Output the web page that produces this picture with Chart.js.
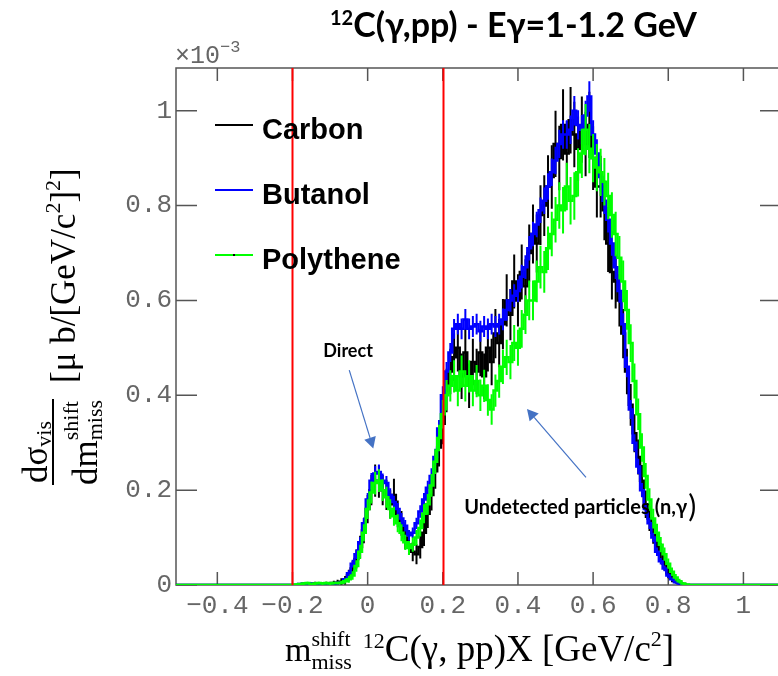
<!DOCTYPE html>
<html>
<head>
<meta charset="utf-8">
<script src="https://cdn.jsdelivr.net/npm/chart.js@4.4.1/dist/chart.umd.min.js"></script>
<style>
  html, body { margin: 0; padding: 0; background: #fff; overflow: hidden; }
  #wrap { position: relative; width: 790px; height: 676px; }
</style>
</head>
<body>
<div id="wrap"><canvas id="chart"></canvas></div>
<script>
// ----------------------- Data ----------------------------------
// missing mass histogram, bins 0.01 GeV/c^2 wide, first bin centred at -0.20
const binLow = -0.20;
const binWidth = 0.01;

// dsigma/dm values in units of 1e-3 ub/(GeV/c^2)^2
const carbon = [
  0, 0, 0, 0.002, 0, 0.002, 0.003, 0.002, 0.002, 0.003,
  0.003, 0.004, 0.005, 0.007, 0.01, 0.02, 0.035, 0.055, 0.08, 0.115,
  0.16, 0.2, 0.22, 0.218, 0.2, 0.19, 0.17, 0.19, 0.15, 0.13,
  0.1, 0.085, 0.07, 0.065, 0.08, 0.11, 0.15, 0.19, 0.24, 0.29,
  0.34, 0.41, 0.45, 0.48, 0.5, 0.44, 0.49, 0.42, 0.47, 0.45,
  0.49, 0.44, 0.5, 0.47, 0.53, 0.51, 0.55, 0.6, 0.57, 0.64,
  0.6, 0.66, 0.63, 0.7, 0.74, 0.72, 0.78, 0.8, 0.84, 0.86,
  0.93, 0.9, 0.97, 0.91, 0.98, 0.95, 0.92, 0.96, 0.93, 0.97,
  0.9, 0.84, 0.84, 0.79, 0.72, 0.66, 0.64, 0.6, 0.53, 0.45,
  0.38, 0.32, 0.27, 0.22, 0.17, 0.14, 0.11, 0.09, 0.07, 0.045,
  0.025, 0.015, 0.01, 0.005, 0.002, 0, 0, 0, 0, 0, 0
];
const butanol = [
  0, 0, 0.002, 0.003, 0.002, 0.003, 0.002, 0.003, 0.002, 0.003,
  0.003, 0.003, 0.004, 0.005, 0.012, 0.025, 0.045, 0.065, 0.09, 0.13,
  0.18, 0.22, 0.235, 0.238, 0.22, 0.215, 0.19, 0.175, 0.16, 0.14,
  0.125, 0.105, 0.11, 0.13, 0.155, 0.18, 0.205, 0.23, 0.27, 0.33,
  0.4, 0.45, 0.49, 0.54, 0.55, 0.54, 0.56, 0.54, 0.545, 0.55,
  0.535, 0.545, 0.54, 0.55, 0.545, 0.55, 0.56, 0.58, 0.6, 0.61,
  0.62, 0.65, 0.67, 0.71, 0.74, 0.76, 0.79, 0.81, 0.84, 0.87,
  0.895, 0.93, 0.95, 0.95, 0.96, 1.0, 0.97, 0.96, 0.99, 1.03,
  0.95, 0.91, 0.86, 0.81, 0.77, 0.72, 0.67, 0.62, 0.55, 0.46,
  0.37, 0.3, 0.25, 0.2, 0.16, 0.13, 0.1, 0.07, 0.05, 0.035,
  0.02, 0.012, 0.006, 0.003, 0.001, 0, 0, 0, 0, 0, 0
];
const polythene = [
  0, 0.001, 0.002, 0.003, 0.004, 0.002, 0.003, 0.004, 0.003, 0.004,
  0.003, 0.004, 0.004, 0.005, 0.008, 0.012, 0.02, 0.04, 0.07, 0.11,
  0.16, 0.195, 0.215, 0.22, 0.2, 0.185, 0.16, 0.145, 0.13, 0.11,
  0.09, 0.078, 0.085, 0.1, 0.12, 0.15, 0.17, 0.21, 0.26, 0.31,
  0.36, 0.4, 0.42, 0.44, 0.41, 0.45, 0.42, 0.44, 0.41, 0.43,
  0.4, 0.42, 0.39, 0.37, 0.41, 0.43, 0.46, 0.48, 0.47, 0.51,
  0.5, 0.54, 0.57, 0.6, 0.6, 0.64, 0.67, 0.66, 0.71, 0.74,
  0.77, 0.8, 0.79, 0.84, 0.81, 0.82, 0.87, 0.91, 0.96, 0.92,
  0.9, 0.88, 0.87, 0.85, 0.82, 0.78, 0.74, 0.69, 0.64, 0.58,
  0.51, 0.43, 0.36, 0.29, 0.23, 0.18, 0.14, 0.11, 0.085, 0.065,
  0.045, 0.028, 0.016, 0.008, 0.003, 0.001, 0, 0, 0, 0, 0
];

// statistical errors per bin (same units)
const carbonErr = [
  0, 0, 0, 0.003, 0, 0.003, 0.004, 0.003, 0.003, 0.004,
  0.004, 0.005, 0.006, 0.007, 0.009, 0.012, 0.016, 0.02, 0.024, 0.027,
  0.03, 0.032, 0.034, 0.034, 0.032, 0.032, 0.03, 0.034, 0.028, 0.026,
  0.024, 0.022, 0.02, 0.021, 0.024, 0.028, 0.03, 0.033, 0.037, 0.04,
  0.043, 0.046, 0.048, 0.05, 0.05, 0.048, 0.05, 0.047, 0.049, 0.048,
  0.05, 0.048, 0.05, 0.049, 0.052, 0.051, 0.053, 0.055, 0.054, 0.057,
  0.055, 0.058, 0.057, 0.06, 0.062, 0.061, 0.063, 0.064, 0.066, 0.067,
  0.07, 0.068, 0.075, 0.068, 0.07, 0.069, 0.068, 0.07, 0.068, 0.07,
  0.067, 0.065, 0.065, 0.063, 0.06, 0.058, 0.057, 0.055, 0.052, 0.048,
  0.044, 0.04, 0.037, 0.033, 0.029, 0.026, 0.023, 0.021, 0.018, 0.015,
  0.011, 0.009, 0.007, 0.005, 0.003, 0, 0, 0, 0, 0, 0
];
const butanolErr = [
  0, 0, 0.002, 0.002, 0.002, 0.002, 0.002, 0.002, 0.002, 0.002,
  0.002, 0.002, 0.003, 0.003, 0.004, 0.006, 0.008, 0.01, 0.011, 0.012,
  0.014, 0.016, 0.016, 0.016, 0.015, 0.015, 0.014, 0.013, 0.013, 0.012,
  0.012, 0.011, 0.011, 0.012, 0.013, 0.014, 0.015, 0.016, 0.017, 0.018,
  0.019, 0.02, 0.02, 0.021, 0.022, 0.022, 0.022, 0.022, 0.022, 0.022,
  0.022, 0.022, 0.022, 0.022, 0.022, 0.022, 0.023, 0.023, 0.024, 0.024,
  0.024, 0.025, 0.025, 0.026, 0.026, 0.027, 0.027, 0.028, 0.028, 0.029,
  0.029, 0.03, 0.03, 0.03, 0.03, 0.031, 0.031, 0.031, 0.031, 0.032,
  0.03, 0.03, 0.029, 0.028, 0.027, 0.026, 0.025, 0.025, 0.023, 0.022,
  0.02, 0.018, 0.016, 0.015, 0.013, 0.012, 0.01, 0.009, 0.007, 0.006,
  0.005, 0.004, 0.003, 0.002, 0.001, 0, 0, 0, 0, 0, 0
];
const polytheneErr = [
  0, 0.002, 0.002, 0.003, 0.003, 0.002, 0.003, 0.003, 0.003, 0.003,
  0.003, 0.003, 0.003, 0.004, 0.005, 0.007, 0.009, 0.012, 0.015, 0.018,
  0.021, 0.023, 0.024, 0.024, 0.023, 0.022, 0.021, 0.02, 0.019, 0.018,
  0.016, 0.015, 0.015, 0.016, 0.018, 0.02, 0.022, 0.024, 0.026, 0.028,
  0.03, 0.032, 0.033, 0.034, 0.033, 0.034, 0.033, 0.034, 0.033, 0.034,
  0.033, 0.034, 0.033, 0.032, 0.034, 0.035, 0.036, 0.037, 0.036, 0.038,
  0.038, 0.04, 0.041, 0.042, 0.042, 0.044, 0.045, 0.044, 0.046, 0.047,
  0.048, 0.049, 0.049, 0.05, 0.05, 0.05, 0.051, 0.052, 0.054, 0.052,
  0.051, 0.05, 0.05, 0.05, 0.049, 0.048, 0.047, 0.046, 0.044, 0.042,
  0.04, 0.037, 0.033, 0.03, 0.027, 0.024, 0.021, 0.019, 0.016, 0.014,
  0.011, 0.009, 0.007, 0.005, 0.003, 0.001, 0, 0, 0, 0, 0
];

const seriesNames = ['Carbon', 'Butanol', 'Polythene'];
const seriesColors = ['#000000', '#0000ff', '#00ff00'];

// axis ranges and tick labels
const xMin = -0.51, xMax = 1.1;
const yMin = 0, yMax = 1.09;
const xTicks = [-0.4, -0.2, 0, 0.2, 0.4, 0.6, 0.8, 1];
const yTicks = [0, 0.2, 0.4, 0.6, 0.8, 1];
// red selection cuts on the missing mass
const cutLines = [-0.2, 0.2];

const massBins = carbon.map((_, i) => +(binLow + i * binWidth).toFixed(3));

// ---------------------- Helpers ------------------------------
// histogram points, padded with zeros out to the axis range
function toPoints(values) {
  const pts = massBins.map((m, i) => ({ x: m, y: values[i] }));
  return [{ x: xMin, y: 0 }, ...pts, { x: xMax, y: 0 }];
}

function fmtTick(v) {
  const s = String(+v.toFixed(1));
  return s.replace('-', '\u2212');
}

// draw a run of text pieces, each {t, size, dy} or {stack: [...]}
function drawRuns(ctx, x, y, runs, family, weight) {
  runs.forEach(r => {
    if (r.stack) {
      let w = 0;
      r.stack.forEach(s => {
        ctx.font = `${weight} ${s.size}px ${family}`;
        ctx.fillText(s.t, x, y + s.dy);
        w = Math.max(w, ctx.measureText(s.t).width);
      });
      x += w;
    } else {
      ctx.font = `${weight} ${r.size}px ${family}`;
      ctx.fillText(r.t, x, y + (r.dy || 0));
      x += ctx.measureText(r.t).width;
    }
  });
  return x;
}

function drawArrow(ctx, x1, y1, x2, y2) {
  const ang = Math.atan2(y2 - y1, x2 - x1);
  const head = 11, half = 6;
  ctx.strokeStyle = '#4472c4';
  ctx.fillStyle = '#4472c4';
  ctx.lineWidth = 1.2;
  ctx.beginPath();
  ctx.moveTo(x1, y1);
  ctx.lineTo(x2 - head * Math.cos(ang), y2 - head * Math.sin(ang));
  ctx.stroke();
  ctx.beginPath();
  ctx.moveTo(x2, y2);
  ctx.lineTo(x2 - head * Math.cos(ang) + half * Math.sin(ang), y2 - head * Math.sin(ang) - half * Math.cos(ang));
  ctx.lineTo(x2 - head * Math.cos(ang) - half * Math.sin(ang), y2 - head * Math.sin(ang) + half * Math.cos(ang));
  ctx.closePath();
  ctx.fill();
}

// ---------------------- Plugins ------------------------------
// ROOT style frame with inward ticks on all four sides
const framePlugin = {
  id: 'frame',
  beforeDatasetsDraw(chart) {
    const { ctx, chartArea: a, scales } = chart;
    ctx.save();
    ctx.strokeStyle = '#555';
    ctx.lineWidth = 1.5;
    ctx.strokeRect(a.left, a.top, a.right - a.left, a.bottom - a.top);
    ctx.beginPath();
    xTicks.forEach(v => {
      const px = scales.x.getPixelForValue(v);
      ctx.moveTo(px, a.bottom); ctx.lineTo(px, a.bottom - 13);
      ctx.moveTo(px, a.top); ctx.lineTo(px, a.top + 13);
    });
    yTicks.forEach(v => {
      const py = scales.y.getPixelForValue(v);
      ctx.moveTo(a.left, py); ctx.lineTo(a.left + 21, py);
      ctx.moveTo(a.right, py); ctx.lineTo(a.right - 21, py);
    });
    ctx.stroke();
    ctx.restore();
  }
};

// vertical error bars drawn together with their histogram
const errorBarPlugin = {
  id: 'errorBars',
  afterDatasetDraw(chart, args) {
    const ds = chart.data.datasets[args.index];
    if (!ds.errors) return;
    const { ctx, scales } = chart;
    ctx.save();
    ctx.strokeStyle = ds.borderColor;
    ctx.lineWidth = 2;
    ctx.beginPath();
    massBins.forEach((m, i) => {
      const e = ds.errors[i];
      if (!e) return;
      const v = ds.values[i];
      const px = scales.x.getPixelForValue(m);
      ctx.moveTo(px, scales.y.getPixelForValue(Math.max(0, v - e)));
      ctx.lineTo(px, scales.y.getPixelForValue(v + e));
    });
    ctx.stroke();
    ctx.restore();
  }
};

const overlayPlugin = {
  id: 'overlay',
  afterDatasetsDraw(chart) {
    const { ctx, chartArea: a, scales } = chart;
    ctx.save();
    // red cut lines
    ctx.strokeStyle = '#ff0000';
    ctx.lineWidth = 2;
    ctx.beginPath();
    cutLines.forEach(v => {
      const px = Math.round(scales.x.getPixelForValue(v)) + 0.5;
      ctx.moveTo(px, a.top); ctx.lineTo(px, a.bottom);
    });
    ctx.stroke();

    // legend
    seriesNames.forEach((name, i) => {
      const y = 125 + i * 65;
      ctx.strokeStyle = seriesColors[i];
      ctx.lineWidth = 2.2;
      ctx.beginPath();
      ctx.moveTo(215, y); ctx.lineTo(253, y);
      ctx.stroke();
      if (i === 2) { ctx.fillStyle = '#000'; ctx.fillRect(233, y - 1, 2, 2); }
      ctx.fillStyle = '#000';
      ctx.font = 'bold 29px "Liberation Sans", Arial, sans-serif';
      ctx.textBaseline = 'alphabetic';
      ctx.fillText(name, 262, y + 14);
    });

    // annotations
    const X = v => scales.x.getPixelForValue(v);
    const Y = v => scales.y.getPixelForValue(v);
    ctx.fillStyle = '#000';
    ctx.font = 'bold 18px Lato, "Open Sans", sans-serif';
    ctx.fillText('Direct', X(-0.118), Y(0.48));
    drawArrow(ctx, X(-0.049), Y(0.453), X(0.015), Y(0.288));
    ctx.fillStyle = '#000';
    const end = drawRuns(ctx, X(0.257), Y(0.15), [
      { t: 'Undetected particles (n,', size: 20 },
      { t: '\u03b3', size: 20 }
    ], 'Lato, "Open Sans", sans-serif', 'bold');
    ctx.font = '30px Lato, "Open Sans", sans-serif';
    ctx.fillText(')', end + 1, Y(0.15) + 3);
    drawArrow(ctx, X(0.581), Y(0.227), X(0.424), Y(0.371));
    ctx.restore();
  },
  afterDraw(chart) {
    const { ctx } = chart;
    ctx.save();
    ctx.fillStyle = '#000';
    ctx.textBaseline = 'alphabetic';

    // title
    drawRuns(ctx, 330, 37, [
      { t: '12', size: 20, dy: -12 },
      { t: 'C(\u03b3,pp) - E\u03b3=1-1.2 GeV', size: 34 }
    ], 'Lato, "Open Sans", sans-serif', 'bold');

    // exponent above the y axis
    ctx.fillStyle = '#666';
    drawRuns(ctx, 175, 63, [
      { t: '\u00d710', size: 25 },
      { t: '\u22123', size: 17, dy: -11 }
    ], '"Liberation Mono", monospace', 'normal');

    // x axis title
    ctx.fillStyle = '#000';
    const serif = '"Liberation Serif", "Times New Roman", serif';
    drawRuns(ctx, 285, 661, [
      { t: 'm', size: 34 },
      { stack: [{ t: 'shift', size: 22, dy: -15 }, { t: 'miss', size: 22, dy: 8 }] },
      { t: '  ', size: 22 },
      { t: '12', size: 22, dy: -13 },
      { t: 'C(\u03b3, pp)X [GeV/c', size: 37 },
      { t: '2', size: 22, dy: -15 },
      { t: ']', size: 37 }
    ], serif, 'normal');

    // y axis title, rotated
    ctx.translate(53, 495);
    ctx.rotate(-Math.PI / 2);
    drawRuns(ctx, 12, -6, [
      { t: 'd\u03c3', size: 35 },
      { t: 'vis', size: 22, dy: 4 }
    ], serif, 'normal');
    ctx.fillRect(10, -1, 86, 2);
    drawRuns(ctx, 10, 44, [
      { t: 'dm', size: 35 },
      { stack: [{ t: 'shift', size: 22, dy: -19 }, { t: 'miss', size: 22, dy: 5 }] }
    ], serif, 'normal');
    drawRuns(ctx, 112, 22, [
      { t: '[\u03bc b/[GeV/c', size: 35 },
      { t: '2', size: 22, dy: -15 },
      { t: ']', size: 35 },
      { t: '2', size: 22, dy: -15 },
      { t: ']', size: 35 }
    ], serif, 'normal');
    ctx.restore();
  }
};

// ---------------------- Chart ------------------------------
const rawSeries = [carbon, butanol, polythene];
const rawErrors = [carbonErr, butanolErr, polytheneErr];

const datasets = seriesNames.map((name, i) => ({
  label: name,
  data: toPoints(rawSeries[i]),
  values: rawSeries[i],
  errors: rawErrors[i],
  borderColor: seriesColors[i],
  borderWidth: 2.5,
  stepped: 'middle',
  pointRadius: 0,
  fill: false,
  order: 3 - i   // polythene drawn last, on top
}));

const tickFont = { family: '"Liberation Mono", monospace', size: 26 };

new Chart(document.getElementById('chart'), {
  type: 'line',
  data: { datasets },
  options: {
    responsive: true,
    maintainAspectRatio: false,
    animation: false,
    layout: { padding: { top: 68, right: 9, left: 0, bottom: 0 } },
    plugins: {
      legend: { display: false },
      tooltip: { enabled: false },
      title: { display: false }
    },
    scales: {
      x: {
        type: 'linear',
        min: xMin,
        max: xMax,
        afterBuildTicks: s => { s.ticks = xTicks.map(v => ({ value: v })); },
        afterFit: s => { s.height = 91; },
        grid: { display: false, drawTicks: false },
        border: { display: false },
        ticks: { font: tickFont, color: '#666', padding: 6, maxRotation: 0, autoSkip: false, callback: fmtTick }
      },
      y: {
        type: 'linear',
        min: yMin,
        max: yMax,
        afterBuildTicks: s => { s.ticks = yTicks.map(v => ({ value: v })); },
        afterFit: s => { s.width = 176; },
        grid: { display: false, drawTicks: false },
        border: { display: false },
        ticks: { font: tickFont, color: '#666', padding: 4, callback: fmtTick }
      }
    }
  },
  plugins: [framePlugin, errorBarPlugin, overlayPlugin]
});
</script>
</body>
</html>
